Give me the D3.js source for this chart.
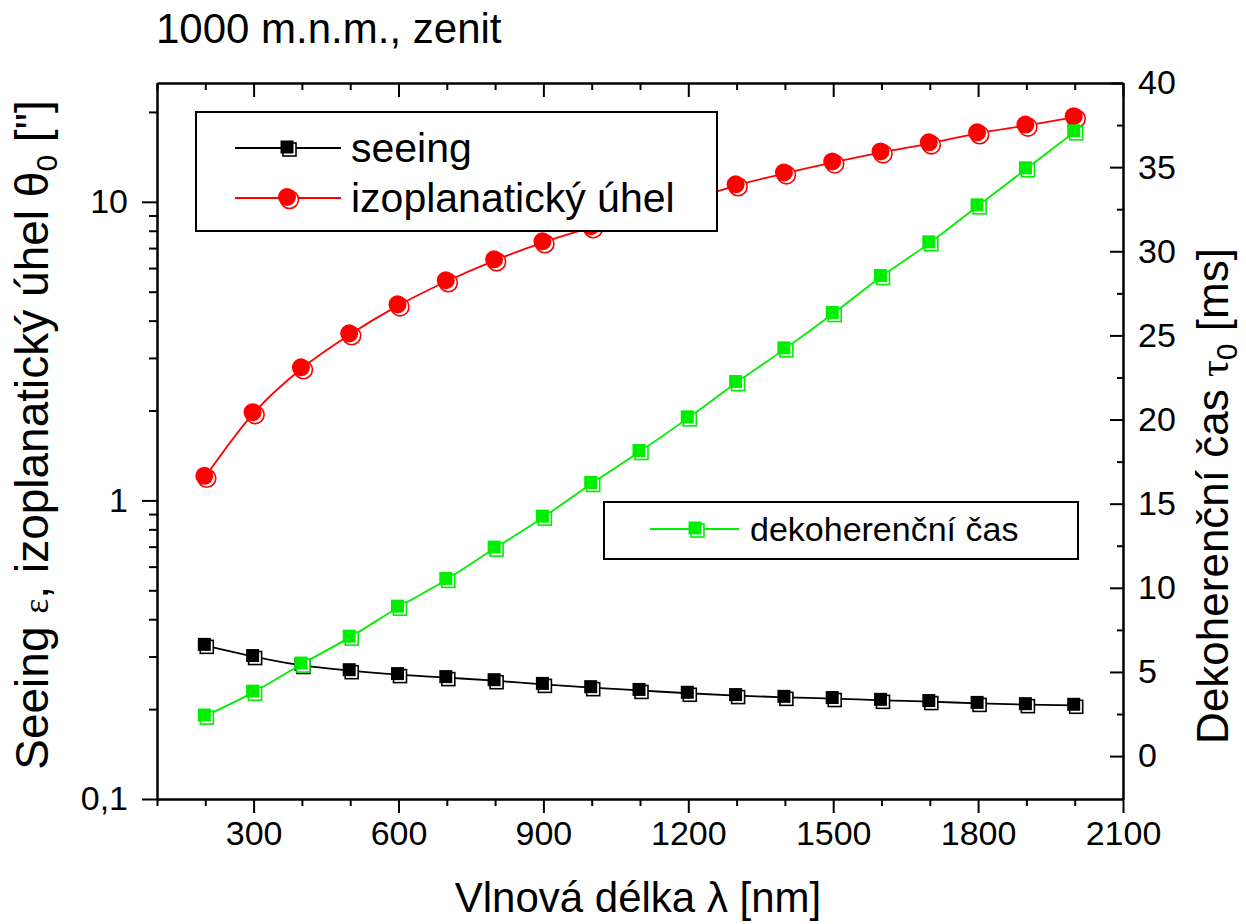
<!DOCTYPE html>
<html>
<head>
<meta charset="utf-8">
<script src="https://cdn.jsdelivr.net/npm/d3@7"></script>
<style>
    body { margin: 0; background: #fff; }
    text { font-family: "Liberation Sans", Arial, sans-serif; fill: #000; }
    .domain { stroke-width: 2px; }
    .tick line { stroke-width: 2px; }
</style>
</head>
<body>
<div id="chart"></div>
<script>

// wavelength samples [nm]
let wavelengths = [200, 300, 400, 500, 600, 700, 800, 900, 1000, 1100, 1200, 1300, 1400, 1500, 1600, 1700, 1800, 1900, 2000];

// seeing ["] (left, log axis)
let seeing = [0.327, 0.300, 0.280, 0.269, 0.261, 0.255, 0.249, 0.242, 0.236, 0.231, 0.226, 0.222, 0.219, 0.217, 0.214, 0.212, 0.209, 0.207, 0.206];

// isoplanatic angle ["] (left, log axis)
let isoAngle = [1.20, 1.96, 2.77, 3.60, 4.50, 5.42, 6.37, 7.32, 8.22, 9.16, 10.1, 11.36, 12.45, 13.55, 14.64, 15.7, 16.96, 18.0, 19.2];

// coherence time [ms] (right, linear axis)
let coherenceTime = [2.38, 3.80, 5.47, 7.07, 8.85, 10.5, 12.36, 14.2, 16.2, 18.1, 20.1, 22.2, 24.2, 26.3, 28.5, 30.5, 32.7, 34.9, 37.1];

// ticks
let xTicks = [300, 600, 900, 1200, 1500, 1800, 2100];
let xMinorTicks = [100, 200, 400, 500, 700, 800, 1000, 1100, 1300, 1400, 1600, 1700, 1900, 2000];
let leftTicks = [0.1, 1, 10];
let leftTickLabels = ["0,1", "1", "10"];
let leftMinorTicks = [0.2, 0.3, 0.4, 0.5, 0.6, 0.7, 0.8, 0.9, 2, 3, 4, 5, 6, 7, 8, 9, 20];
let rightTicks = [0, 5, 10, 15, 20, 25, 30, 35, 40];
let rightMinorTicks = [2.5, 7.5, 12.5, 17.5, 22.5, 27.5, 32.5, 37.5];

class SeeingVis {

    constructor(parentElement) {
        this.parentElement = parentElement;
        this.initVis();
    }

    initVis() {
        let vis = this;

        vis.width = 1246;
        vis.height = 924;
        vis.plot = {left: 157, right: 1123, top: 83, bottom: 799};

        vis.svg = d3.select("#" + vis.parentElement).append("svg")
            .attr("width", vis.width)
            .attr("height", vis.height);

        // scales
        vis.x = d3.scaleLinear().domain([100, 2100]).range([vis.plot.left, vis.plot.right]);
        vis.yLeft = d3.scaleLog().domain([0.1, 25]).range([vis.plot.bottom, vis.plot.top]);
        vis.yRight = d3.scaleLinear().domain([-2.55, 40]).range([vis.plot.bottom, vis.plot.top]);

        vis.drawAxes();
        vis.drawSeries();
        vis.drawLegends();
        vis.drawTitles();
    }

    drawAxes() {
        let vis = this;

        // bottom
        vis.svg.append("g")
            .attr("transform", "translate(0," + vis.plot.bottom + ")")
            .call(d3.axisBottom(vis.x).tickValues(xMinorTicks).tickSize(7).tickSizeOuter(0).tickFormat(""));
        vis.svg.append("g")
            .attr("class", "tick-labels")
            .attr("transform", "translate(0," + vis.plot.bottom + ")")
            .call(d3.axisBottom(vis.x).tickValues(xTicks).tickSize(14).tickSizeOuter(0).tickPadding(8)
                .tickFormat(d3.format("d")));

        // top (mirror, ticks inward)
        vis.svg.append("g")
            .attr("transform", "translate(0," + vis.plot.top + ")")
            .call(d3.axisTop(vis.x).tickValues(xMinorTicks).tickSize(-7).tickSizeOuter(0).tickFormat(""));
        vis.svg.append("g")
            .attr("transform", "translate(0," + vis.plot.top + ")")
            .call(d3.axisTop(vis.x).tickValues(xTicks).tickSize(-14).tickSizeOuter(0).tickFormat(""));

        // left log axis
        vis.svg.append("g")
            .attr("transform", "translate(" + vis.plot.left + ",0)")
            .call(d3.axisLeft(vis.yLeft).tickValues(leftMinorTicks).tickSize(8).tickSizeOuter(0).tickFormat(""));
        vis.svg.append("g")
            .attr("class", "tick-labels")
            .attr("transform", "translate(" + vis.plot.left + ",0)")
            .call(d3.axisLeft(vis.yLeft).tickValues(leftTicks).tickSize(15).tickSizeOuter(0).tickPadding(14)
                .tickFormat((d, i) => leftTickLabels[i]));

        // right linear axis (ticks inward)
        vis.svg.append("g")
            .attr("transform", "translate(" + vis.plot.right + ",0)")
            .call(d3.axisRight(vis.yRight).tickValues(rightMinorTicks).tickSize(-6).tickSizeOuter(0).tickFormat(""));
        vis.svg.append("g")
            .attr("class", "tick-labels")
            .attr("transform", "translate(" + vis.plot.right + ",0)")
            .call(d3.axisRight(vis.yRight).tickValues(rightTicks).tickSize(-13).tickSizeOuter(0).tickPadding(15));

        vis.svg.selectAll(".tick-labels text")
            .style("font-size", "34px")
            .style("font-family", "'Liberation Sans', Arial, sans-serif");
    }

    // Origin-like "shadowed" marker: open outline behind, filled shape in front
    marker(g, shape, cx, cy, color) {
        if (shape === "square") {
            g.append("rect")
                .attr("x", cx - 5).attr("y", cy - 5)
                .attr("width", 13).attr("height", 13)
                .attr("fill", "#fff").attr("stroke", color).attr("stroke-width", 1.6);
            g.append("rect")
                .attr("x", cx - 7.5).attr("y", cy - 7.5)
                .attr("width", 13).attr("height", 13)
                .attr("fill", color);
        } else {
            g.append("circle")
                .attr("cx", cx + 1.5).attr("cy", cy + 1.5).attr("r", 9)
                .attr("fill", "#fff").attr("stroke", color).attr("stroke-width", 1.6);
            g.append("circle")
                .attr("cx", cx - 1).attr("cy", cy - 1).attr("r", 9)
                .attr("fill", color);
        }
    }

    drawSeries() {
        let vis = this;

        vis.series = [
            {values: seeing, scale: vis.yLeft, color: "#000", shape: "square"},
            {values: isoAngle, scale: vis.yLeft, color: "#ff0000", shape: "circle"},
            {values: coherenceTime, scale: vis.yRight, color: "#00ee00", shape: "square"}
        ];

        vis.series.forEach(s => {
            let pts = wavelengths.map((w, i) => ({x: w, y: s.values[i]}));

            let line = d3.line()
                .x(d => vis.x(d.x))
                .y(d => s.scale(d.y))
                .curve(d3.curveMonotoneX);

            let g = vis.svg.append("g");

            g.append("path")
                .datum(pts)
                .attr("d", line)
                .attr("fill", "none")
                .attr("stroke", s.color)
                .attr("stroke-width", 1.8);

            pts.forEach(p => vis.marker(g, s.shape, vis.x(p.x), s.scale(p.y), s.color));
        });
    }

    drawLegends() {
        let vis = this;

        // legend 1
        let l1 = vis.svg.append("g");
        l1.append("rect")
            .attr("x", 196).attr("y", 112).attr("width", 521).attr("height", 119)
            .attr("fill", "#fff").attr("stroke", "#000").attr("stroke-width", 2);

        [{label: "seeing", s: vis.series[0], y: 148},
         {label: "izoplanatický úhel", s: vis.series[1], y: 198}].forEach(item => {
            l1.append("line")
                .attr("x1", 235).attr("x2", 341).attr("y1", item.y).attr("y2", item.y)
                .attr("stroke", item.s.color).attr("stroke-width", 1.8);
            vis.marker(l1, item.s.shape, 288, item.y, item.s.color);
            l1.append("text")
                .attr("x", 351).attr("y", item.y)
                .attr("dy", "0.35em")
                .style("font-size", "41px")
                .text(item.label);
        });

        // legend 2
        let l2 = vis.svg.append("g");
        l2.append("rect")
            .attr("x", 604).attr("y", 502).attr("width", 474).attr("height", 57)
            .attr("fill", "#fff").attr("stroke", "#000").attr("stroke-width", 2);
        l2.append("line")
            .attr("x1", 650).attr("x2", 739).attr("y1", 529).attr("y2", 529)
            .attr("stroke", vis.series[2].color).attr("stroke-width", 1.8);
        vis.marker(l2, "square", 696, 529, vis.series[2].color);
        l2.append("text")
            .attr("x", 750).attr("y", 529)
            .attr("dy", "0.35em")
            .style("font-size", "34px")
            .text("dekoherenční čas");
    }

    drawTitles() {
        let vis = this;

        // top-left title
        vis.svg.append("text")
            .attr("x", 156).attr("y", 43)
            .style("font-size", "42px")
            .text("1000 m.n.m., zenit");

        // x title
        vis.svg.append("text")
            .attr("x", 638).attr("y", 912)
            .attr("text-anchor", "middle")
            .style("font-size", "42px")
            .text("Vlnová délka λ [nm]");

        // left y title
        let lt = vis.svg.append("text")
            .attr("transform", "translate(48,435) rotate(-90)")
            .attr("text-anchor", "middle")
            .style("font-size", "46px");
        lt.append("tspan").text("Seeing ");
        lt.append("tspan").style("font-family", "'Liberation Serif', serif").style("font-size", "36px").text("ε");
        lt.append("tspan").text(", izoplanatický úhel θ");
        lt.append("tspan").attr("dy", "0.3em").style("font-size", "30px").text("0");
        lt.append("tspan").attr("dy", "-0.2em").text(" [\"]");

        // right y title
        let rt = vis.svg.append("text")
            .attr("transform", "translate(1228,496) rotate(-90)")
            .attr("text-anchor", "middle")
            .style("font-size", "44px");
        rt.append("tspan").text("Dekoherenční čas ");
        rt.append("tspan").style("font-family", "'Liberation Serif', serif").style("font-size", "42px").text("τ");
        rt.append("tspan").attr("dy", "0.3em").style("font-size", "30px").text("0");
        rt.append("tspan").attr("dy", "-0.2em").text(" [ms]");
    }
}

let seeingVis = new SeeingVis("chart");

</script>
</body>
</html>
